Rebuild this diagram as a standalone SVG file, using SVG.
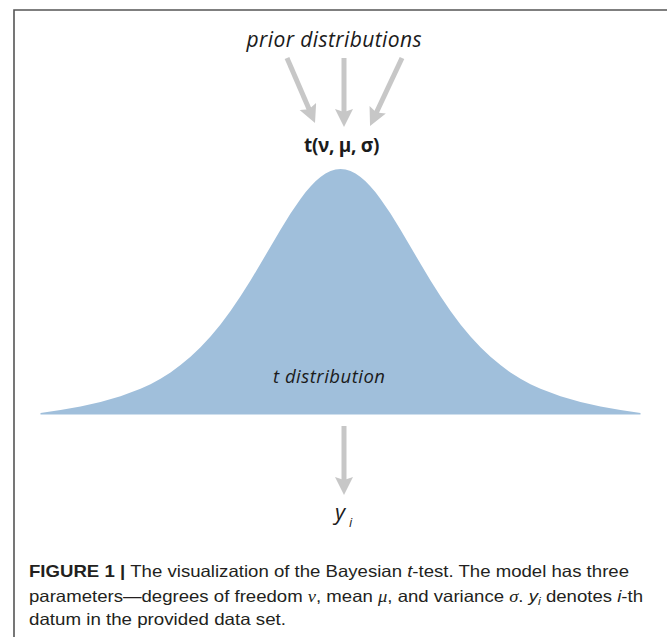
<svg xmlns="http://www.w3.org/2000/svg" width="667" height="637" viewBox="0 0 667 637">
<style>
.frame{fill:none;stroke:#555;stroke-width:1.6}
.arrow{fill:none;stroke:#c7c7c7;stroke-width:5}
.lbl{font-family:"Open Sans","Noto Sans",sans-serif;fill:#1b1b1b}
.cap{font-family:"Liberation Sans",Arial,sans-serif;font-size:16.5px;fill:#231f20}
.greek{font-family:"Liberation Serif","Times New Roman",serif;font-style:italic}
</style>
<defs>
<marker id="head" markerUnits="userSpaceOnUse" markerWidth="20" markerHeight="20" refX="8" refY="9" orient="auto" viewBox="0 0 20 20">
<path d="M0,0 L18,9 L0,18 L3,9 Z" fill="#c7c7c7"/>
</marker>
</defs>
<rect width="667" height="637" fill="#fff"/>
<path class="frame" d="M14,637 V10 H667"/>

<g id="t-distribution">
<polygon fill="#a0bfdb" points="40.5,413 60.5,409.9 80.5,406.4 100.5,402 120.5,396.3 140.5,388.7 150.5,384.2 160.5,378.7 170.5,372.5 180.5,365 190.5,356.7 200.5,347.3 210.5,336.5 220.5,324.5 230.5,311 240.5,296.3 250.5,280.5 260.5,263.8 270.5,246.7 280.5,229.8 290.5,213.5 300.5,198.9 305.5,192.3 310.5,186.4 315.5,181.3 320.5,177 325.5,173.5 330.5,171 335.5,169.5 340.5,169 345.5,169.5 350.5,171 355.5,173.5 360.5,177 365.5,181.3 370.5,186.4 375.5,192.3 380.5,198.9 390.5,213.5 400.5,229.8 410.5,246.7 420.5,263.8 430.5,280.5 440.5,296.3 450.5,311 460.5,324.5 470.5,336.5 480.5,347.3 490.5,356.7 500.5,365 510.5,372.5 520.5,378.7 530.5,384.2 540.5,388.7 560.5,396.3 580.5,402 600.5,406.4 620.5,409.9 640.5,413 640.5,414.5 40.5,414.5"/>
<text class="lbl" x="273" y="383" font-size="18.5" font-style="italic" textLength="112" fill="#1c2230">t distribution</text>
</g>

<g id="priors">
<text class="lbl" x="334" y="47" font-size="21" font-style="italic" text-anchor="middle" textLength="175">prior distributions</text>
</g>

<g id="params">
<text class="lbl" x="341.5" y="151.5" font-size="19" font-weight="700" text-anchor="middle" letter-spacing="-0.3">t(ν, μ, σ)</text>
</g>

<g id="yi">
<text class="lbl" x="335" y="520" font-size="22" font-style="italic">y</text>
<text class="lbl" x="349" y="527" font-size="13" font-style="italic">i</text>
</g>

<g id="connectors">
<path class="arrow" d="M287,58 L311.05,113.8" marker-end="url(#head)"/>
<path class="arrow" d="M344,58 L344,117" marker-end="url(#head)"/>
<path class="arrow" d="M402,58 L374.3,117" marker-end="url(#head)"/>
<path class="arrow" d="M344,426 L344,485" marker-end="url(#head)"/>
</g>

<g id="caption">
<text class="cap" x="29" y="577" textLength="600" lengthAdjust="spacingAndGlyphs"><tspan font-weight="bold">FIGURE 1 | </tspan>The visualization of the Bayesian <tspan font-style="italic">t</tspan>-test. The model has three</text>
<text class="cap" x="29" y="601.5" textLength="614" lengthAdjust="spacingAndGlyphs">parameters—degrees of freedom <tspan class="greek">ν</tspan>, mean <tspan class="greek">μ</tspan>, and variance <tspan class="greek">σ</tspan>. <tspan font-style="italic">y</tspan><tspan font-style="italic" font-size="11" dy="3">i</tspan><tspan dy="-3"> denotes </tspan><tspan font-style="italic">i</tspan>-th</text>
<text class="cap" x="29" y="625" textLength="257" lengthAdjust="spacingAndGlyphs">datum in the provided data set.</text>
</g>
</svg>
